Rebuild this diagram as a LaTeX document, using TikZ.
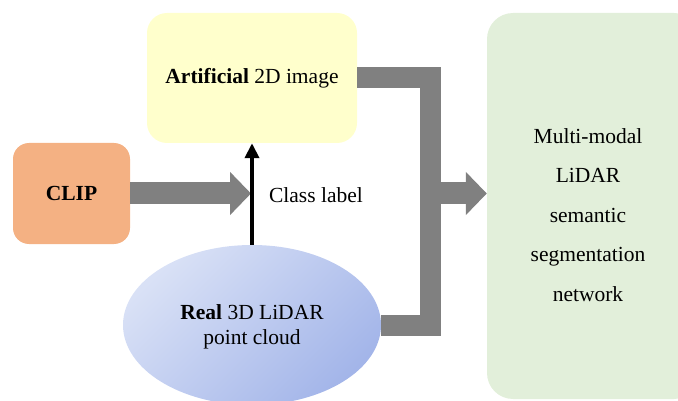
\documentclass[tikz,border=0pt]{standalone}
\usepackage{fontspec}
\setmainfont{Liberation Serif}
\usetikzlibrary{arrows.meta,shapes.geometric}
\definecolor{artyellow}{HTML}{FFFFCC}
\definecolor{cliporange}{HTML}{F4B183}
\definecolor{netgreen}{HTML}{E2EFDA}
\definecolor{flowgray}{HTML}{808080}
\definecolor{elllight}{HTML}{D9E1F6}
\definecolor{elldark}{HTML}{A3B5E9}
\tikzset{
  txt/.style={font=\fontsize{21.5}{25}\selectfont, inner sep=0pt},
  roundbox/.style={rounded corners=20pt, inner sep=0pt, draw=none},
  fatflow/.style={draw=flowgray, line width=21pt, line join=miter},
  fatarrow/.style={draw=flowgray, line width=22pt, -{Triangle[length=21pt,width=42pt]}},
  labelarrow/.style={draw=black, line width=4pt, -{Triangle[length=15pt,width=14pt]}},
}
\begin{document}
\begin{tikzpicture}[x=1pt,y=-1pt]
\useasboundingbox (0,0) rectangle (678,401);
% boxes
\node[roundbox, fill=artyellow, minimum width=210pt, minimum height=130pt] (art) at (252,78) {};
\node[txt] (arttext) at (252,78) {\textbf{Artificial} 2D image};
\node[roundbox, rounded corners=16pt, fill=cliporange, minimum width=117pt, minimum height=101pt] (clip) at (71.5,193.5) {};
\node[txt] (cliptext) at (71.5,193.5) {\textbf{CLIP}};
\node[roundbox, rounded corners=26pt, fill=netgreen, minimum width=213pt, minimum height=386pt] (net) at (593.5,206) {};
\node[txt, align=center, font=\fontsize{21.5}{39.5}\selectfont] (nettext) at (588,215) {Multi-modal\\LiDAR\\semantic\\segmentation\\network};
% ellipse
\node[ellipse, draw=none, minimum width=258pt, minimum height=160pt, inner sep=0pt,
      top color=elllight, bottom color=elldark, shading angle=45] (ell) at (252,325) {};
\node[txt, align=center] (elltext) at (252,327) {\textbf{Real} 3D LiDAR\\point cloud};
% connectors
\coordinate (cliptip) at (251,193.5);
\coordinate (bendtop) at (430,78);
\coordinate (bendbot) at (430,325);
\coordinate (junction) at (430,193.5);
\draw[fatflow] (art.east |- bendtop) -- (bendtop) -- (bendbot) -- (ell.east);
\draw[fatarrow] (clip.east) -- (cliptip);
\draw[fatarrow] (junction) -- (net.west |- junction);
\draw[labelarrow] (ell.north) -- (art.south);
\node[txt] (classlabel) at (316,195) {Class label};
\end{tikzpicture}
\end{document}
